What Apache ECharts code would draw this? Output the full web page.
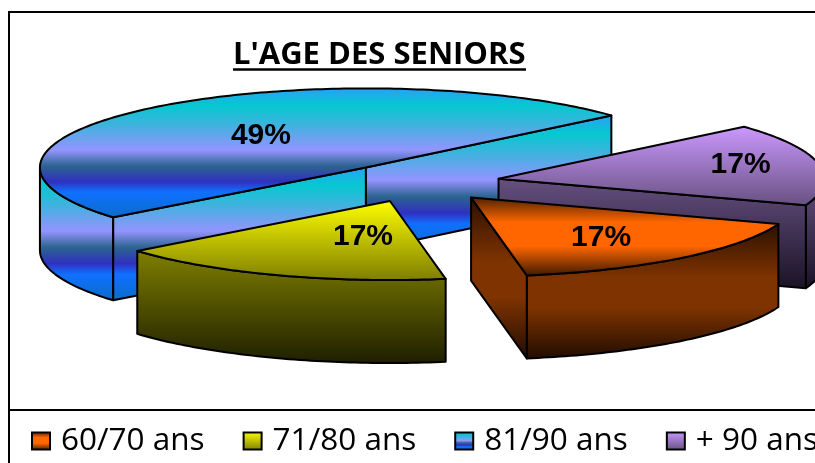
<!DOCTYPE html>
<html><head><meta charset="utf-8">
<style>html,body{margin:0;padding:0;background:#fff}#c{width:815px;height:463px}</style>
<script src="https://cdn.jsdelivr.net/npm/echarts@6/dist/echarts.min.js"></script>
</head><body><div id="c"></div>
<script>
const categories = ['60/70 ans', '71/80 ans', '81/90 ans', '+ 90 ans'];
const values = [16.85, 16.85, 49.45, 16.85];
const titleText = "L'AGE DES SENIORS";

// Pie geometry (pixels), explosion is a fraction of the radius
const pie = {cx: 418.5, cy: 182.5, a: 326, b: 79, depth: 83, explode: 0.25, startDeg: 19.5};
const drawOrder = [2, 3, 1, 0];
const labelOffsets = [[130, 40], [-27, 36], [-105, -32], [242, -14]];

function grad(stops) {
  return new echarts.graphic.LinearGradient(0, 0, 0, 1,
    stops.map(s => ({offset: s[0], color: s[1]})));
}
const peacock = [[0,'#2a9ff8'],[0.14,'#06c8d0'],[0.3,'#45b0e0'],[0.48,'#9494ff'],[0.6,'#2c6490'],[0.72,'#3030c0'],[0.8,'#1070ff'],[1,'#0a6cc8']];
const tops = [
  [[0,'#4a2000'],[0.32,'#ff6600'],[0.62,'#ff6600'],[1,'#3a1800']],
  [[0,'#ffff00'],[1,'#7d7d00']],
  peacock,
  [[0,'#cc99ff'],[1,'#665080']]
];
const sides = [
  [[0,'#2a1000'],[0.4,'#7f3300'],[0.62,'#7f3300'],[1,'#200c00']],
  [[0,'#808000'],[1,'#1e1e00']],
  peacock,
  [[0,'#665080'],[1,'#1a1226']]
];

const total = values.reduce((s, v) => s + v, 0);
function sliceAngles(i) {
  let t = pie.startDeg;
  for (let k = 0; k < i; k++) t += values[k] / total * 360;
  return [t, t + values[i] / total * 360];
}
function pt(o, deg) {
  const r = deg * Math.PI / 180;
  return [o[0] + pie.a * Math.cos(r), o[1] + pie.b * Math.sin(r)];
}
function arc(o, t0, t1) {
  const out = [];
  const n = Math.max(2, Math.ceil(Math.abs(t1 - t0)));
  for (let j = 0; j <= n; j++) out.push(pt(o, t0 + (t1 - t0) * j / n));
  return out;
}
function drop(p) { return [p[0], p[1] + pie.depth]; }
function wall(points, i) {
  return {
    type: 'polygon',
    shape: {points: points.concat(points.slice().reverse().map(drop))},
    style: {fill: grad(sides[i]), stroke: '#000', lineWidth: 2, lineJoin: 'round'}
  };
}
function renderSlice(params, api) {
  const i = api.value(0);
  const [t0, t1] = sliceAngles(i);
  const mid = (t0 + t1) / 2;
  const apex = [
    pie.cx + pie.explode * pie.a * Math.cos(mid * Math.PI / 180),
    pie.cy + pie.explode * pie.b * Math.sin(mid * Math.PI / 180)
  ];
  const kids = [];
  // Outer rim: only the parts of the arc on the viewer's side
  [[0, 180], [360, 540]].forEach(([lo, hi]) => {
    const a0 = Math.max(t0, lo), a1 = Math.min(t1, hi);
    if (a1 > a0) kids.push(wall(arc(apex, a0, a1), i));
  });
  // Cut faces turned towards the viewer
  const ps = pt(apex, t0), pe = pt(apex, t1);
  if (ps[0] < apex[0]) kids.push(wall([apex, ps], i));
  if (pe[0] > apex[0]) kids.push(wall([pe, apex], i));
  // Top face
  kids.push({
    type: 'polygon',
    shape: {points: [apex].concat(arc(apex, t0, t1))},
    style: {fill: grad(tops[i]), stroke: '#000', lineWidth: 2, lineJoin: 'round'}
  });
  kids.push({
    type: 'text',
    style: {
      x: apex[0] + labelOffsets[i][0], y: apex[1] + labelOffsets[i][1],
      text: Math.round(values[i] / total * 100) + '%',
      font: 'bold 30px "Liberation Sans"', fill: '#000', align: 'center', verticalAlign: 'middle'
    }
  });
  return {type: 'group', children: kids};
}

const chart = echarts.init(document.getElementById('c'), null, {renderer: 'canvas'});
chart.setOption({
  backgroundColor: '#fff',
  animation: false,
  title: {
    text: titleText, left: 233, top: 40, padding: 0,
    textStyle: {fontFamily: '"Open Sans"', fontWeight: 'bold', fontSize: 31, color: '#000'}
  },
  legend: {
    left: 26, top: 420, width: 900, itemWidth: 18, itemHeight: 17, itemGap: 38,
    icon: 'rect', selectedMode: false,
    textStyle: {fontFamily: '"Open Sans"', fontSize: 31.5, color: '#000', padding: [0, 0, 0, 6]},
    data: categories.map((n, i) => ({name: n, itemStyle: {color: grad(tops[i]), borderColor: '#000', borderWidth: 2}}))
  },
  graphic: [
    {type: 'rect', silent: true, shape: {x: 9, y: 12, width: 900, height: 600}, style: {fill: 'none', stroke: '#000', lineWidth: 2}},
    {type: 'line', silent: true, shape: {x1: 9, y1: 410, x2: 815, y2: 410}, style: {stroke: '#000', lineWidth: 2}},
    {type: 'line', silent: true, shape: {x1: 233, y1: 69.5, x2: 526, y2: 69.5}, style: {stroke: '#000', lineWidth: 2.5}}
  ],
  series: drawOrder.map(i => ({
    type: 'custom', name: categories[i], coordinateSystem: 'none', silent: true,
    renderItem: renderSlice, data: [[i, values[i]]],
    itemStyle: {color: tops[i][1][1]}
  }))
});
</script></body></html>
